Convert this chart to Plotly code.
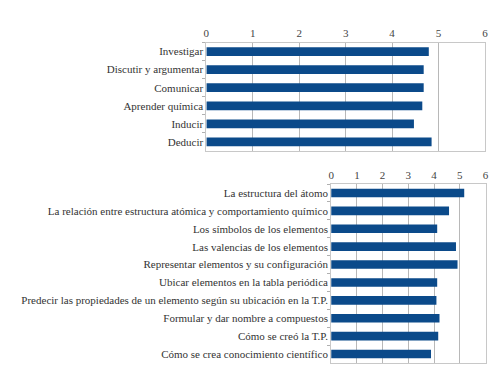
import plotly.graph_objects as go

top_categories = ["Investigar", "Discutir y argumentar", "Comunicar", "Aprender química", "Inducir", "Deducir"]
top_values = [4.79, 4.68, 4.68, 4.65, 4.47, 4.85]

bottom_categories = [
    "La estructura del átomo",
    "La relación entre estructura atómica y comportamiento químico",
    "Los símbolos de los elementos",
    "Las valencias de los elementos",
    "Representar elementos y su configuración",
    "Ubicar elementos en la tabla periódica",
    "Predecir las propiedades de un elemento según su ubicación en la T.P.",
    "Formular y dar nombre a compuestos",
    "Cómo se creó la T.P.",
    "Cómo se crea conocimiento científico",
]
bottom_values = [5.17, 4.58, 4.12, 4.85, 4.91, 4.12, 4.09, 4.21, 4.16, 3.88]

tick_vals = [0, 1, 2, 3, 4, 5, 6]

BAR = "#0b4a8a"
FONT = "Times New Roman"
W, H = 504, 374
OFF = 8  # page body margin

def px_x(a, b):
    return [(a - OFF) / W, (b - OFF) / W]

def px_y(top, bottom):
    return [(H - (bottom - OFF)) / H, (H - (top - OFF)) / H]

fig = go.Figure()
fig.add_trace(go.Bar(x=top_values, y=top_categories, orientation="h",
                     marker=dict(color=BAR, line=dict(width=0)),
                     xaxis="x", yaxis="y", showlegend=False))
fig.add_trace(go.Bar(x=bottom_values, y=bottom_categories, orientation="h",
                     marker=dict(color=BAR, line=dict(width=0)),
                     xaxis="x2", yaxis="y2", showlegend=False))

def xax(domain, anchor):
    return dict(domain=domain, anchor=anchor, side="top", range=[0, 6],
                tickvals=tick_vals, showgrid=True, gridcolor="#b8b8b8", gridwidth=1,
                showline=True, linecolor="#c8c8c8", linewidth=1, mirror=True,
                zeroline=False, ticks="", tickfont=dict(family=FONT, size=11, color="#444"),
                fixedrange=True)

def yax(domain, anchor):
    return dict(domain=domain, anchor=anchor, autorange="reversed", type="category",
                showline=True, linecolor="#c8c8c8", linewidth=1, mirror=True,
                ticks="outside", tickson="boundaries", ticklen=3, tickcolor="#b0b0b0",
                showgrid=False, tickfont=dict(family=FONT, size=11, color="#333"),
                fixedrange=True)

fig.update_layout(
    width=W, height=H,
    margin=dict(l=0, r=0, t=0, b=0),
    paper_bgcolor="white", plot_bgcolor="white",
    bargap=0.52,
    font=dict(family=FONT),
    xaxis=xax(px_x(205.7, 487.7), "y"),
    yaxis=yax(px_y(42.5, 151), "x"),
    xaxis2=xax(px_x(332, 488.3), "y2"),
    yaxis2=yax(px_y(184, 363), "x2"),
)

fig.write_html("out.html")
